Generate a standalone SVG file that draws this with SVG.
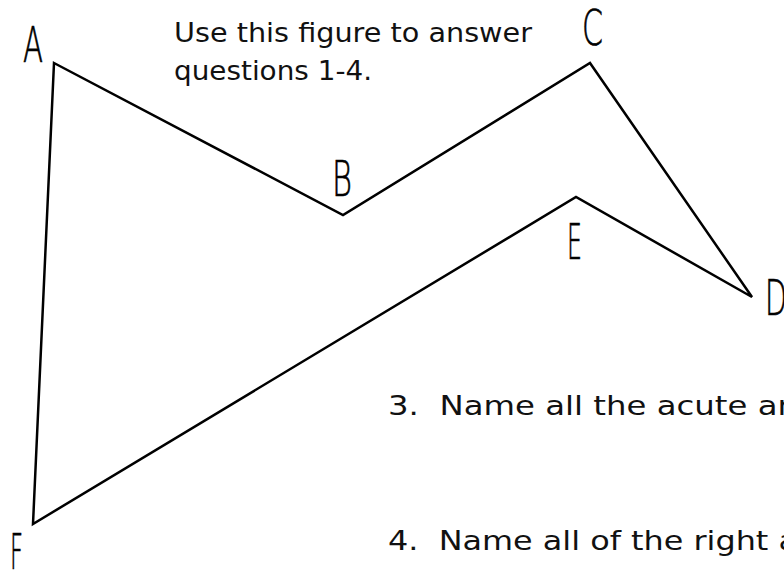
<svg xmlns="http://www.w3.org/2000/svg" width="784" height="575" viewBox="0 0 784 575">
<style>
.lbl{font-family:"DejaVu Sans","Liberation Sans",sans-serif;font-weight:200;font-size:50px;fill:#000;stroke:#000;stroke-width:0.7}
.txt{font-family:"DejaVu Sans","Liberation Sans",sans-serif;font-size:26px;fill:#111}
.q{font-size:27px}
.edge{fill:none;stroke:#000;stroke-width:2.5;stroke-linejoin:miter;stroke-linecap:round}
</style>
<rect width="784" height="575" fill="#fff"/>
<g id="connectors">
<polygon class="edge" points="54,63 343,215 590,63 752,297 576,197 33,524"/>
</g>
<g id="A"><text class="lbl" x="23" y="62" textLength="20" lengthAdjust="spacingAndGlyphs">A</text></g>
<g id="B"><text class="lbl" x="332" y="196" textLength="20" lengthAdjust="spacingAndGlyphs">B</text></g>
<g id="C"><text class="lbl" x="582" y="45" textLength="21" lengthAdjust="spacingAndGlyphs">C</text></g>
<g id="D"><text class="lbl" x="765" y="315" textLength="22" lengthAdjust="spacingAndGlyphs">D</text></g>
<g id="E"><text class="lbl" x="567" y="259" textLength="15" lengthAdjust="spacingAndGlyphs">E</text></g>
<g id="F"><text class="lbl" x="10" y="569" textLength="13" lengthAdjust="spacingAndGlyphs">F</text></g>
<g id="intro">
<text class="txt" x="174" y="42" textLength="358" lengthAdjust="spacingAndGlyphs">Use this figure to answer</text>
<text class="txt" x="174" y="80" textLength="198" lengthAdjust="spacingAndGlyphs">questions 1-4.</text>
</g>
<g id="q3"><text class="txt q" x="388" y="415" textLength="410" lengthAdjust="spacingAndGlyphs" xml:space="preserve">3.  Name all the acute an</text></g>
<g id="q4"><text class="txt q" x="388" y="550" textLength="410" lengthAdjust="spacingAndGlyphs" xml:space="preserve">4.  Name all of the right a</text></g>
</svg>
